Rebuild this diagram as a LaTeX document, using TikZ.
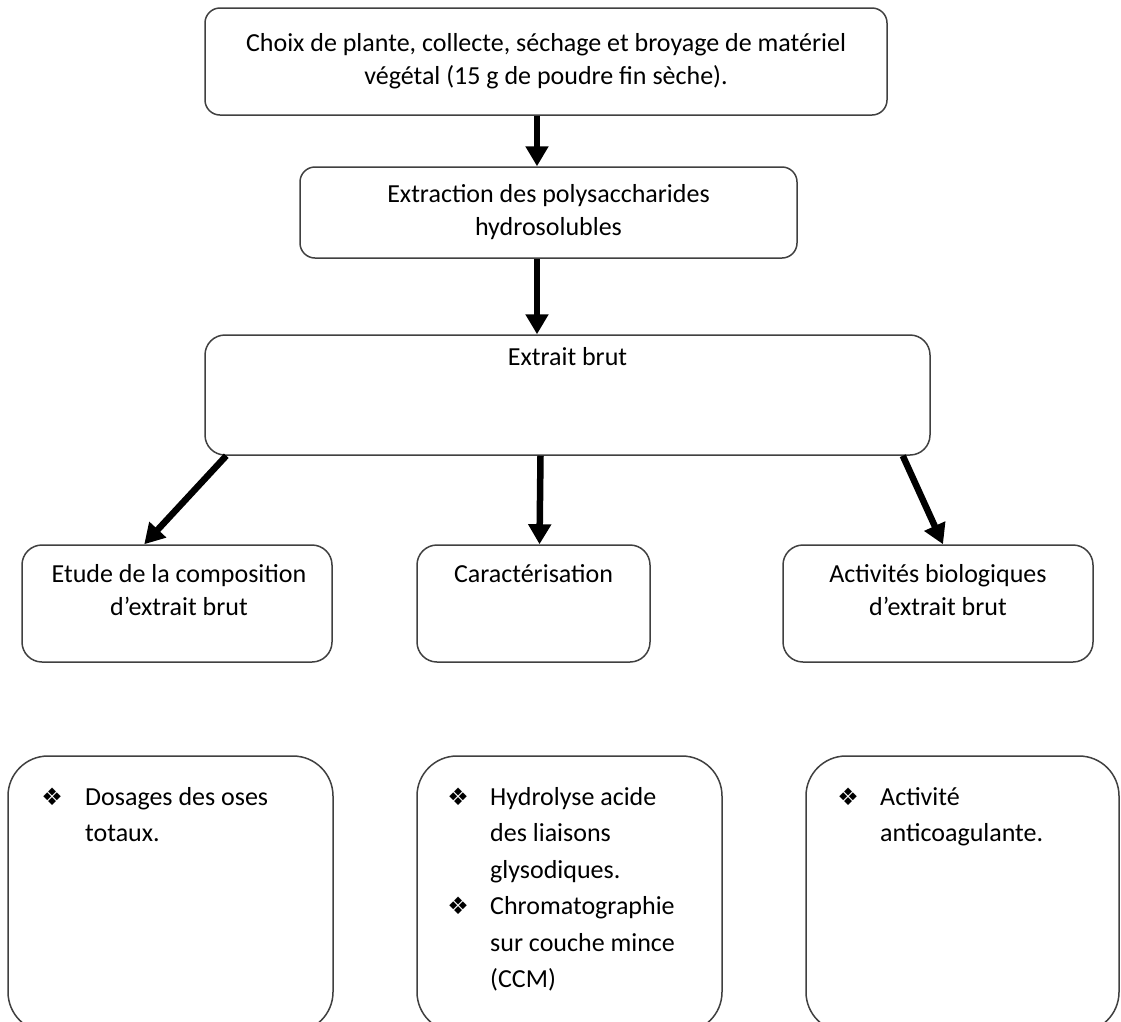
\documentclass[tikz,border=0pt]{standalone}
\usepackage{fontspec}
\setmainfont{Carlito}
\newfontfamily\puces{DejaVu Sans}
\usetikzlibrary{arrows.meta}

\tikzset{
	boite/.style={draw=black!75, line width=1.5pt, rounded corners=15pt},
	fleche/.style={line width=6.5pt, -{Triangle[length=20pt, width=22pt]}},
	texte/.style={font=\fontsize{26}{33}\selectfont, align=center, inner sep=0pt},
}
\newcommand{\puce}{\makebox[18pt][c]{\puces\fontsize{24}{24}\selectfont ❖}}

\begin{document}
\begin{tikzpicture}[x=1pt, y=-1pt]
	\clip (0,0) rectangle (1121,1021);
	\fill [white] (0,0) rectangle (1121,1021);
	% les trois etapes du haut
	\node [boite, texte, minimum width=682pt, minimum height=107pt] (choix) at (546,61.5)
		{Choix de plante, collecte, séchage et broyage de matériel\\végétal (15 g de poudre fin sèche).};
	\node [boite, texte, minimum width=497pt, minimum height=91pt] (extraction) at (548.5,212.5)
		{Extraction des polysaccharides\\hydrosolubles};
	\node [boite, rounded corners=20pt, minimum width=725pt, minimum height=120pt,
		label={[texte, below=13pt]north:Extrait brut}] (brut) at (567.5,395) {};
	\coordinate (axe) at (537,0);
	\draw [fleche] (choix.south -| axe) -- (extraction.north -| axe);
	\draw [fleche] (extraction.south -| axe) -- (brut.north -| axe);

	% les trois etudes
	\node [boite, rounded corners=20pt, minimum width=310pt, minimum height=117pt,
		label={[texte, below=20pt, xshift=2pt]north:Etude de la composition\\d’extrait brut}] (etude) at (177,603.5) {};
	\node [boite, rounded corners=20pt, minimum width=233pt, minimum height=117pt,
		label={[texte, below=20pt]north:Caractérisation}] (caract) at (533.5,603.5) {};
	\node [boite, rounded corners=20pt, minimum width=310pt, minimum height=117pt,
		label={[texte, below=20pt]north:Activités biologiques\\d’extrait brut}] (activ) at (938,603.5) {};
	\draw [fleche] ([xshift=22pt]brut.south west) -- ([xshift=123pt]etude.north west);
	\draw [fleche] ([xshift=-27pt]brut.south) -- ([xshift=6pt]caract.north);
	\draw [fleche] ([xshift=-28pt]brut.south east) -- ([xshift=5pt]activ.north);

	% les boites du bas
	\node [boite, rounded corners=40pt, minimum width=325pt, minimum height=276pt] (dosage) at (170.5,894) {};
	\node [boite, rounded corners=40pt, minimum width=305pt, minimum height=276pt] (hydro) at (569.5,894) {};
	\node [boite, rounded corners=40pt, minimum width=313pt, minimum height=276pt] (anticoag) at (962.5,894) {};
	\node [anchor=base west, inner sep=0pt, font=\fontsize{26}{36.5}\selectfont] (liste1) at (43,805)
		{\begin{tabular}[t]{@{}p{42pt}@{}l@{}}
			\puce & Dosages des oses\\ & totaux.
		\end{tabular}};
	\node [anchor=base west, inner sep=0pt, font=\fontsize{26}{36.5}\selectfont] (liste2) at (449,805)
		{\begin{tabular}[t]{@{}p{41pt}@{}l@{}}
			\puce & Hydrolyse acide\\ & des liaisons\\ & glysodiques.\\
			\puce & Chromatographie\\ & sur couche mince\\ & (CCM)
		\end{tabular}};
	\node [anchor=base west, inner sep=0pt, font=\fontsize{26}{36.5}\selectfont] (liste3) at (839,805)
		{\begin{tabular}[t]{@{}p{41pt}@{}l@{}}
			\puce & Activité\\ & anticoagulante.
		\end{tabular}};
\end{tikzpicture}
\end{document}
